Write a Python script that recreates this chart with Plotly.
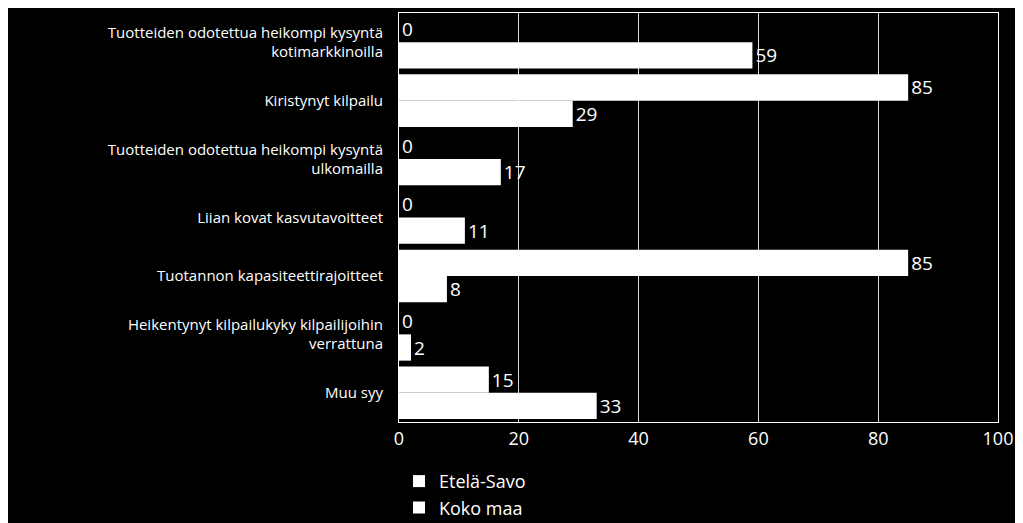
import plotly.graph_objects as go

categories = ["Tuotteiden odotettua heikompi kysyntä<br>kotimarkkinoilla", "Kiristynyt kilpailu",
              "Tuotteiden odotettua heikompi kysyntä<br>ulkomailla", "Liian kovat kasvutavoitteet",
              "Tuotannon kapasiteettirajoitteet", "Heikentynyt kilpailukyky kilpailijoihin<br>verrattuna", "Muu syy"]
etela_savo = [0, 85, 0, 0, 85, 0, 15]
koko_maa = [59, 29, 17, 11, 8, 2, 33]

fig = go.Figure()
for name, vals in [("Etelä-Savo", etela_savo), ("Koko maa", koko_maa)]:
    fig.add_trace(go.Bar(y=categories, x=vals, name=name, orientation="h",
                         marker=dict(color="white", line=dict(width=0)),
                         text=vals, textposition="outside", cliponaxis=False,
                         textfont=dict(color="white", size=19)))
fig.update_layout(
    width=1023, height=523, paper_bgcolor="black", plot_bgcolor="black",
    margin=dict(l=391, r=33, t=5, b=83),
    barmode="group", bargap=0.1, bargroupgap=0,
    font=dict(family="Open Sans", color="white", size=14),
    xaxis=dict(range=[0, 100], dtick=20, showgrid=True, gridcolor="#d9d9d9", gridwidth=1, automargin=False,
               tickfont=dict(size=18), zeroline=False, showline=True, linecolor="white", mirror=True, ticks=""),
    yaxis=dict(autorange="reversed", tickfont=dict(size=15), showline=True, linecolor="white",
               ticks="outside", ticklen=12, tickcolor="black", mirror=True, automargin=False),
    legend=dict(orientation="h", x=0.0, y=-0.1, xanchor="left", yanchor="top",
                font=dict(size=18), itemwidth=30, entrywidth=290),
)
fig.write_html("out.html")
